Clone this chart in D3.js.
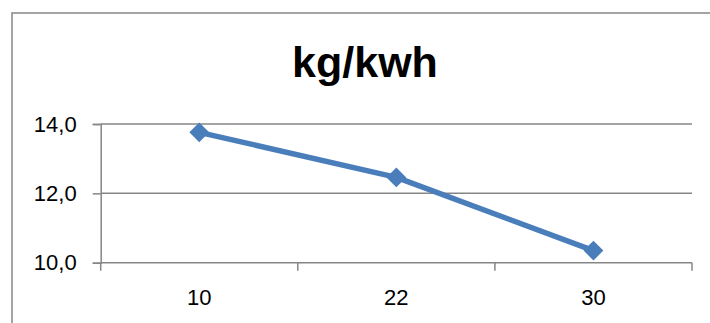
<!DOCTYPE html>
<html><head><meta charset="utf-8">
<script src="https://cdn.jsdelivr.net/npm/d3@7"></script>
<style>
html,body{margin:0;padding:0;background:#fff;}
svg{display:block;}
text{font-family:"Liberation Sans",Arial,sans-serif;fill:#000;}
</style></head>
<body>
<script>
const categories = ["10", "22", "30"];
const values = [13.76, 12.46, 10.35];
const yTicks = [10, 12, 14];
const title = "kg/kwh";

const W = 710, H = 323;
const svg = d3.select("body").append("svg").attr("width", W).attr("height", H);

// chart border
svg.append("rect").attr("x", 12).attr("y", 13).attr("width", 720).attr("height", 340)
  .attr("fill", "none").attr("stroke", "#868686").attr("stroke-width", 1.5);

const pLeft = 100.7, pRight = 692, pTop = 124, pBottom = 262.7;
const x = d3.scaleBand().domain(categories).range([pLeft, pRight]);
const y = d3.scaleLinear().domain([10, 14]).range([pBottom, pTop]);

svg.append("text").attr("x", 365).attr("y", 77).attr("text-anchor", "middle")
  .attr("font-size", 43).attr("font-weight", "bold").text(title);

const gridColor = "#868686";
// gridlines
svg.append("g").selectAll("line").data(yTicks.filter(d => d !== 10)).join("line")
  .attr("x1", pLeft).attr("x2", pRight).attr("y1", d => y(d)).attr("y2", d => y(d))
  .attr("stroke", gridColor).attr("stroke-width", 1.5);

// y axis
const yAxis = d3.axisLeft(y).tickValues(yTicks).tickSize(8).tickPadding(16)
  .tickFormat(d => d3.format(".1f")(d).replace(".", ","));
const gy = svg.append("g").attr("transform", `translate(${pLeft},0)`).call(yAxis);
gy.select(".domain").attr("stroke", gridColor).attr("stroke-width", 1.5);
gy.selectAll(".tick line").attr("stroke", gridColor).attr("stroke-width", 1.5);
gy.selectAll(".tick text").attr("font-size", 22).attr("font-family", "Liberation Sans, Arial, sans-serif").attr("fill", "#000");

// x axis
const xAxis = d3.axisBottom(x).tickSize(0).tickPadding(27);
const gx = svg.append("g").attr("transform", `translate(0,${pBottom})`).call(xAxis);
gx.select(".domain").remove();
gx.selectAll(".tick text").attr("font-size", 22).attr("font-family", "Liberation Sans, Arial, sans-serif").attr("fill", "#000");
svg.append("line").attr("x1", pLeft).attr("x2", pRight).attr("y1", pBottom).attr("y2", pBottom)
  .attr("stroke", gridColor).attr("stroke-width", 1.5);
const bounds = categories.map(c => x(c)).concat([pRight]);
svg.append("g").selectAll("line").data(bounds).join("line")
  .attr("x1", d => d).attr("x2", d => d).attr("y1", pBottom).attr("y2", pBottom + 8)
  .attr("stroke", gridColor).attr("stroke-width", 1.5);

// line
const cx = c => x(c) + x.bandwidth() / 2;
const data = categories.map((c, i) => ({c, v: values[i]}));
svg.append("path").datum(data)
  .attr("d", d3.line().x(d => cx(d.c)).y(d => y(d.v)))
  .attr("fill", "none").attr("stroke", "#4A7EBB").attr("stroke-width", 5.5).attr("stroke-linejoin", "round");

svg.append("g").selectAll("path").data(data).join("path")
  .attr("d", d3.symbol(d3.symbolSquare, 196))
  .attr("transform", d => `translate(${cx(d.c)},${y(d.v)}) rotate(45)`)
  .attr("fill", "#4A7EBB");
</script>
</body></html>
